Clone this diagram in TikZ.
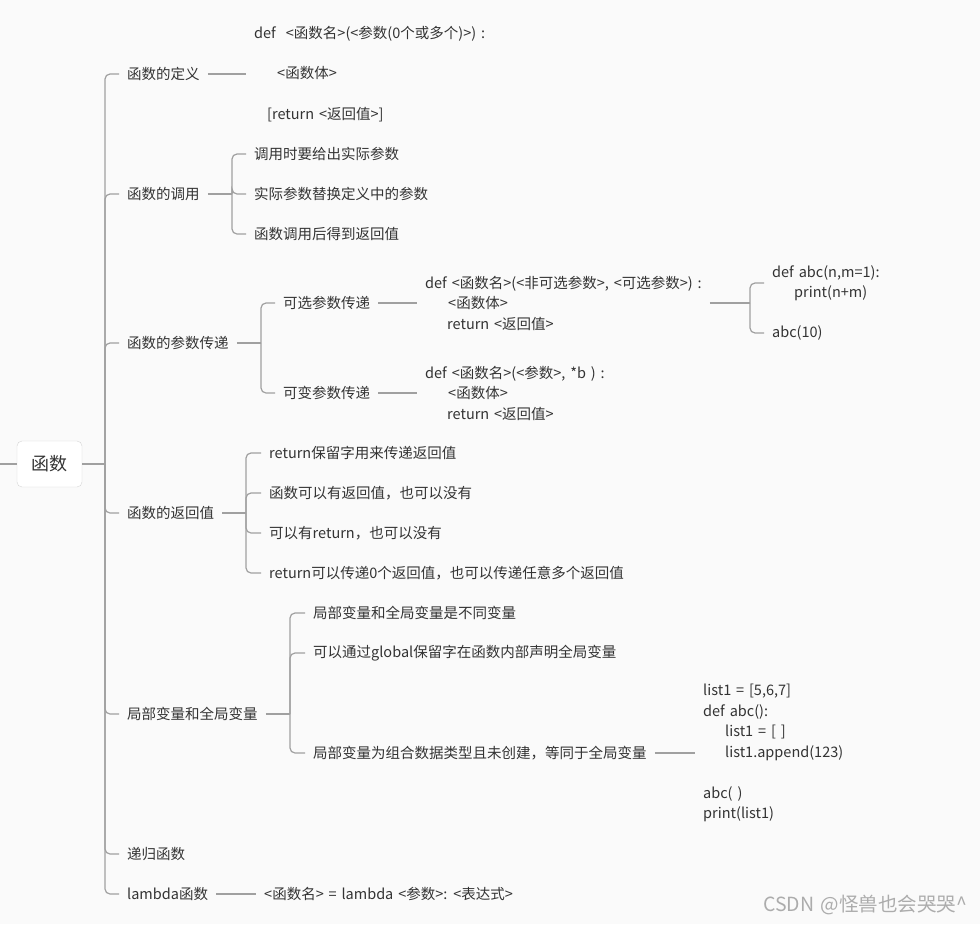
\documentclass[tikz,border=0pt]{standalone}
\usepackage{fontspec}
\setmainfont[WordSpace=1.5]{Noto Sans CJK SC}
\usetikzlibrary{positioning}
\definecolor{bg}{HTML}{FAFAFA}
\definecolor{ln}{HTML}{A0A0A0}
\definecolor{tx}{HTML}{333333}
\begin{document}
\begin{tikzpicture}[x=1pt, y=-1pt, every node/.style={font=\fontsize{14.5}{20.5}\selectfont, text=tx, inner xsep=8pt, inner ysep=2pt, anchor=west, align=left}, link/.style={draw=ln, line width=1.2pt}, brace/.style={link, rounded corners=5pt}]
\fill[bg] (0,0) rectangle (980,924);
\useasboundingbox (0,0) rectangle (980,924);
\node[draw=ln!45, fill=white, rounded corners=5pt, minimum width=65pt, minimum height=46pt, anchor=center, inner sep=0pt, font=\fontsize{18}{20}\selectfont] (root) at (49.5,464) {函数};
\coordinate (stub) at (0,464); \coordinate (trunk) at (105,464);
\node (def) at (119,74) {函数的定义}; \node (call) at (119,194) {函数的调用};
\node (pass) at (119,343) {函数的参数传递}; \node (ret) at (119,513) {函数的返回值};
\node (scope) at (119,714) {局部变量和全局变量}; \node (rec) at (119,854) {递归函数};
\node (lam) at (119,894) {lambda函数};
% definition
\node (defcode) at (246,74) {def\hspace{10pt}<函数名>(<参数(0个或多个)>) :\\[20pt]\hspace*{23pt}<函数体>\\[20pt]\hspace*{13pt}[return <返回值>]};
% call
\coordinate (jcall) at (232,194);
\node (call1) at (246,154) {调用时要给出实际参数}; \node (call2) at (246,194) {实际参数替换定义中的参数};
\node (call3) at (246,234) {函数调用后得到返回值};
% parameters
\coordinate (jpass) at (261,343);
\node (opt) at (275,303) {可选参数传递}; \node (var) at (275,393) {可变参数传递};
\node (optcode) at (417,303) {def <函数名>(<非可选参数>, <可选参数>) :\\\hspace*{23pt}<函数体>\\\hspace*{22pt}return <返回值>};
\node (varcode) at (417,393) {def <函数名>(<参数>, *b ) :\\\hspace*{23pt}<函数体>\\\hspace*{22pt}return <返回值>};
\coordinate (jopt) at (750,303);
\node (ex1) at (764,283) {def abc(n,m=1):\\\hspace*{22pt}print(n+m)}; \node (ex2) at (764,333) {abc(10)};
% return values
\coordinate (jret) at (246,513);
\node (ret1) at (261,453) {return保留字用来传递返回值}; \node (ret2) at (261,493) {函数可以有返回值，也可以没有};
\node (ret3) at (261,533) {可以有return，也可以没有}; \node (ret4) at (261,573) {return可以传递0个返回值，也可以传递任意多个返回值};
% scope
\coordinate (jscope) at (290,714);
\node (sc1) at (305,613) {局部变量和全局变量是不同变量}; \node (sc2) at (305,653) {可以通过global保留字在函数内部声明全局变量};
\node (sc3) at (305,753) {局部变量为组合数据类型且未创建，等同于全局变量};
\node (sccode) at (695,753) {list1 = [5,6,7]\\def abc():\\\hspace*{22pt}list1 = [ ]\\\hspace*{22pt}list1.append(123)\\[20.5pt]abc( )\\print(list1)};
% lambda
\node (lamcode) at (256,894) {<函数名> = lambda <参数>: <表达式>};
\node[text=gray!65, inner sep=0pt, font=\fontsize{19.5}{21}\selectfont] (mark) at (763,905) {CSDN @怪兽也会哭哭\textasciicircum};
\draw[link] (stub) -- (root); \draw[link] (root) -- (trunk);
\foreach \c in {def,call,pass,ret,scope,rec,lam} \draw[brace] (trunk) |- (\c.west);
\foreach \a/\b in {call/jcall,pass/jpass,ret/jret,scope/jscope,optcode/jopt} \draw[link] (\a) -- (\b);
\foreach \a/\b in {def/defcode,opt/optcode,var/varcode,sc3/sccode,lam/lamcode} \draw[link] (\a) -- (\b);
\foreach \j/\c in {jcall/call1,jcall/call2,jcall/call3,jpass/opt,jpass/var,jopt/ex1,jopt/ex2,jret/ret1,jret/ret2,jret/ret3,jret/ret4,jscope/sc1,jscope/sc2,jscope/sc3}
  \draw[brace] (\j) |- (\c.west);
\end{tikzpicture}
\end{document}
